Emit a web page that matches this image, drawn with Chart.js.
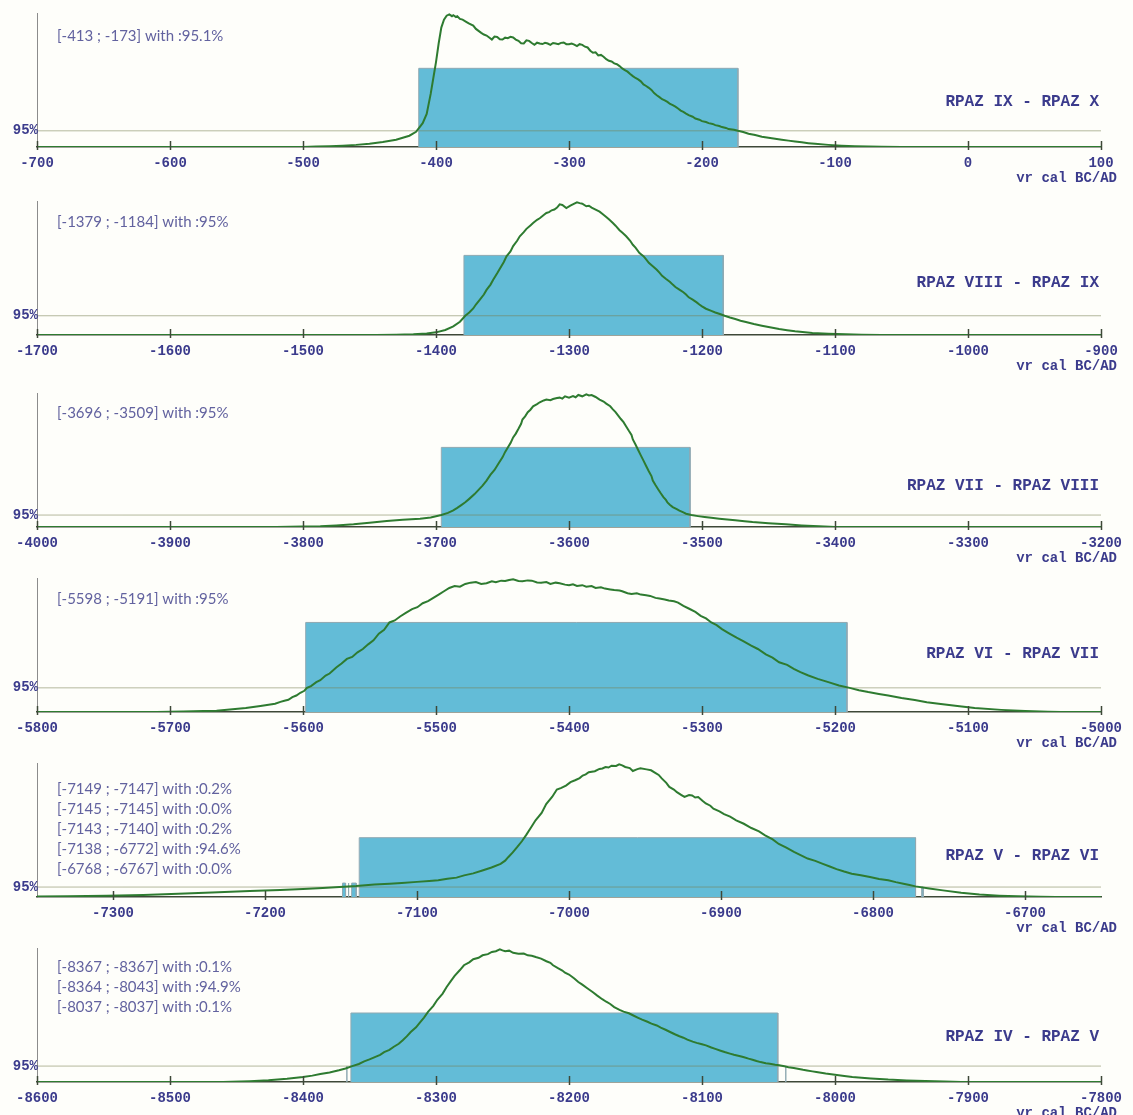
<!DOCTYPE html>
<html>
<head>
<meta charset="utf-8">
<script src="https://cdn.jsdelivr.net/npm/chart.js@4.4.1/dist/chart.umd.min.js"></script>
<style>
  body { margin: 0; background: #fefefa; width: 1133px; height: 1115px; overflow: hidden; position: relative; }
  canvas { position: absolute; left: 0; }
</style>
</head>
<body>
<canvas id="c0" width="1133" height="182" style="top:0px"></canvas>
<canvas id="c1" width="1133" height="182" style="top:188px"></canvas>
<canvas id="c2" width="1133" height="182" style="top:380px"></canvas>
<canvas id="c3" width="1133" height="182" style="top:565px"></canvas>
<canvas id="c4" width="1133" height="182" style="top:750px"></canvas>
<canvas id="c5" width="1133" height="182" style="top:935px"></canvas>
<script>
// panel names and x ranges (yr cal BC/AD)
const titles = ['RPAZ IX - RPAZ X', 'RPAZ VIII - RPAZ IX', 'RPAZ VII - RPAZ VIII',
                'RPAZ VI - RPAZ VII', 'RPAZ V - RPAZ VI', 'RPAZ IV - RPAZ V'];
const xRanges = [[-700, 100], [-1700, -900], [-4000, -3200], [-5800, -5000], [-7350, -6650], [-8600, -7800]];

// density level of the 95% line, in % of the peak
const thresholds = [12.2, 14.5, 9, 18.2, 7.5, 12];

// HPD intervals: [from, to, share, drawn height in % of peak]
const hpd1 = [[-413, -173, '95.1%', 59.3]];
const hpd2 = [[-1379, -1184, '95%', 60]];
const hpd3 = [[-3696, -3509, '95%', 60]];
const hpd4 = [[-5598, -5191, '95%', 67.5]];
const hpd5 = [[-7149, -7147, '0.2%', 10.5], [-7145, -7145, '0.0%', 10.5], [-7143, -7140, '0.2%', 10.5],
              [-7138, -6772, '94.6%', 44.7], [-6768, -6767, '0.0%', 7.5]];
const hpd6 = [[-8367, -8367, '0.1%', 12], [-8364, -8043, '94.9%', 52], [-8037, -8037, '0.1%', 12]];

// posterior densities [year, % of peak]
const curve1 = [[-700,0],[-500,0],[-490,0.3],[-480,0.6],[-470,1.0],[-460,1.6],[-450,2.5],[-440,3.8],[-430,5.5],[-420,8.5],
  [-415,11.5],[-410,18],[-407,25],[-404,40],[-402,52],[-400,64],[-398,78],[-396,90],[-394,96],[-392,99],[-390,100],
  [-388,98.6],[-387,99.4],[-385,98],[-384,98.5],[-382,96.5],[-380,96],[-377,94.2],[-375,93],[-372,91.5],[-370,89],
  [-368,87.5],[-366,86],[-364,84.8],[-362,84],[-360,82.5],[-358,81],[-356,83.2],[-354,83],[-352,81.2],[-350,81],
  [-348,82.4],[-346,82],[-344,83],[-342,82.5],[-340,81],[-338,80],[-336,78.2],[-334,78],[-332,80.4],[-330,80],
  [-328,78.4],[-326,77],[-324,78.6],[-322,78],[-320,77.6],[-318,78.5],[-316,78],[-314,77],[-312,78.4],[-310,78],
  [-308,77.5],[-306,78.5],[-304,78.8],[-302,77.5],[-300,77.4],[-298,78],[-296,77.2],[-294,76],[-292,77.5],[-290,77],
  [-288,75.6],[-286,75],[-284,72.6],[-282,71],[-280,71.4],[-278,69],[-276,69.4],[-274,68],[-272,66.2],[-270,65],
  [-268,64.5],[-266,63],[-264,62.4],[-262,61],[-260,59.2],[-258,58],[-256,56.8],[-254,55],[-252,53.4],[-250,52],
  [-248,51],[-246,49.5],[-244,47.2],[-242,46],[-240,44.6],[-238,43],[-236,40.6],[-234,39],[-232,37.6],[-230,36],
  [-228,35.2],[-226,34],[-224,32.4],[-222,31.5],[-220,30.4],[-218,29],[-216,27.4],[-214,26.5],[-212,25.2],[-210,24],
  [-207,22.8],[-205,21.5],[-202,20.6],[-200,19.5],[-197,18.8],[-195,18],[-192,17.4],[-190,16.5],[-187,15.8],[-185,15],
  [-182,14.4],[-180,13.5],[-176,13],[-173,12.2],[-169,11.3],[-165,10],[-160,9],[-155,7.8],[-150,7],[-145,6.2],
  [-140,5.5],[-135,4.8],[-130,4.2],[-125,3.5],[-120,2.9],[-115,2.4],[-105,1.6],[-95,1.0],[-85,0.6],[-75,0.3],[-65,0.1],
  [-50,0],[100,0]];
const curve2 = [[-1700,0],[-1445,0],[-1430,0.2],[-1417,0.5],[-1407,1.2],[-1400,2],[-1393,3.8],[-1387,6.5],[-1382,10],
  [-1378,14.5],[-1375,17],[-1372,20],[-1370,23],[-1367,26.6],[-1364,30.5],[-1362,34],[-1359,38],[-1357,41.7],
  [-1354,46.5],[-1352,50],[-1349,55],[-1347,59.3],[-1344,63],[-1342,67],[-1339,71],[-1337,74.4],[-1334,77.5],
  [-1332,80],[-1329,82.6],[-1327,84.4],[-1324,86.8],[-1322,88],[-1319,90.5],[-1317,92],[-1315,92.6],[-1313,94],
  [-1311,94.6],[-1309,96],[-1307,98.5],[-1305,98],[-1302,95.7],[-1299,97.5],[-1296,99],[-1294,100],[-1292,99.4],
  [-1290,99],[-1287,97],[-1285,97.4],[-1283,96],[-1280,94.5],[-1277,93],[-1275,91.4],[-1272,89],[-1270,87.2],
  [-1267,84.4],[-1265,82.4],[-1262,79],[-1260,77.2],[-1257,74.4],[-1254,71],[-1252,68],[-1250,65.8],[-1247,61.8],
  [-1244,59.4],[-1242,57],[-1240,54.4],[-1237,51.8],[-1234,49.2],[-1232,47],[-1230,44.6],[-1227,42.2],[-1224,40],
  [-1222,38],[-1220,36.2],[-1217,34.2],[-1214,32.2],[-1212,30.5],[-1210,28.4],[-1207,26.6],[-1204,24.6],[-1202,23],
  [-1200,21.6],[-1197,19.8],[-1193,18.2],[-1190,17],[-1186,15.6],[-1183,14.5],[-1179,13.2],[-1175,12],[-1171,10.8],
  [-1167,9.8],[-1161,8.3],[-1155,7],[-1148,5.6],[-1142,4.5],[-1136,3.6],[-1130,2.8],[-1117,1.5],[-1105,0.9],
  [-1092,0.5],[-1080,0.2],[-1065,0],[-900,0]];
const curve3 = [[-4000,0],[-3820,0],[-3800,0.3],[-3787,0.6],[-3775,1.2],[-3762,2],[-3750,3.2],[-3737,4.5],[-3725,5.4],
  [-3712,6.2],[-3704,7.2],[-3696,9],[-3691,10.6],[-3687,12.5],[-3684,14.4],[-3681,16.5],[-3678,18.6],[-3675,21.2],
  [-3671,24.8],[-3668,28],[-3665,31.2],[-3662,35],[-3659,39.4],[-3656,43],[-3653,47.8],[-3650,52.5],[-3648,56.6],
  [-3646,60],[-3644,63.2],[-3642,67.5],[-3640,70.4],[-3638,74],[-3636,77.8],[-3635,81],[-3633,83.4],[-3631,86.5],
  [-3629,88.4],[-3627,91],[-3624,92.6],[-3622,94],[-3619,95.4],[-3617,96],[-3614,95.6],[-3612,96.5],[-3609,97.2],
  [-3607,97.5],[-3605,96.8],[-3603,98.5],[-3600,97.5],[-3597,98.7],[-3595,97.8],[-3593,99.5],[-3590,98.5],[-3587,100],
  [-3585,99.2],[-3583,99.5],[-3580,98],[-3577,96],[-3574,94.6],[-3572,93],[-3569,91],[-3567,88.7],[-3565,86.6],
  [-3563,84],[-3561,81.4],[-3559,79],[-3557,75.8],[-3555,72.5],[-3553,69.4],[-3552,66],[-3550,62.2],[-3548,58],
  [-3546,54],[-3544,50],[-3542,46],[-3540,42],[-3538,38.4],[-3537,35],[-3535,31.6],[-3533,28.5],[-3531,25.4],
  [-3529,22.5],[-3527,20.2],[-3526,18.5],[-3524,16.6],[-3522,15],[-3519,13.5],[-3517,12.3],[-3514,11],[-3512,10],
  [-3508,9],[-3503,8.2],[-3498,7.5],[-3493,6.9],[-3487,6.2],[-3481,5.6],[-3475,5],[-3468,4.3],[-3462,3.7],[-3450,2.8],
  [-3437,2],[-3425,1.2],[-3412,0.5],[-3400,0],[-3200,0]];
const curve4 = [[-5800,0],[-5710,0],[-5690,0.3],[-5675,0.7],[-5665,1],[-5655,1.8],[-5643,3],[-5632,4.5],[-5621,6.2],
  [-5617,7.6],[-5614,8.5],[-5611,9.2],[-5608,11.2],[-5605,12.4],[-5602,14.5],[-5599,16],[-5597,18.2],[-5594,19.5],
  [-5590,22.5],[-5587,24],[-5583,27.5],[-5580,29],[-5575,33.5],[-5571,36.5],[-5567,40],[-5563,41.5],[-5559,45],
  [-5555,47.5],[-5551,51],[-5547,54],[-5543,59],[-5539,62],[-5535,67.5],[-5531,69],[-5527,72],[-5523,74.5],
  [-5518,77.5],[-5514,79],[-5510,82],[-5506,83.5],[-5502,86],[-5498,88.5],[-5494,91],[-5490,93.5],[-5486,95],
  [-5482,94.5],[-5478,96.5],[-5474,97.5],[-5470,98],[-5466,96.5],[-5462,97],[-5458,98.5],[-5455,97.8],[-5451,99],
  [-5448,98.7],[-5445,99.5],[-5442,100],[-5438,98.8],[-5435,98.5],[-5431,99.2],[-5428,99],[-5424,97.6],[-5421,97.5],
  [-5417,97.9],[-5414,96.5],[-5410,97.5],[-5407,97],[-5403,96],[-5400,95.5],[-5397,96.3],[-5394,95],[-5390,95.6],
  [-5387,94.5],[-5383,94.9],[-5380,93.5],[-5376,94],[-5373,93],[-5369,92.4],[-5366,92],[-5362,91.6],[-5360,91],
  [-5356,89.5],[-5353,89],[-5349,89.5],[-5346,88.5],[-5342,88],[-5339,87.5],[-5335,86],[-5332,85.5],[-5328,84.8],
  [-5325,84],[-5321,83.5],[-5318,82.5],[-5314,80],[-5310,78],[-5305,75.5],[-5301,72.5],[-5297,70.5],[-5293,67.5],
  [-5289,65.5],[-5285,62.5],[-5280,59.5],[-5274,56],[-5269,53.5],[-5263,50],[-5258,47.5],[-5252,43.5],[-5247,41],
  [-5242,37.5],[-5236,35.5],[-5231,32.5],[-5226,30],[-5220,27.5],[-5213,25],[-5205,22.5],[-5197,20],[-5189,18.2],
  [-5182,16.4],[-5175,15],[-5167,13.6],[-5160,12.5],[-5150,10.6],[-5140,9],[-5131,7.4],[-5122,6.2],[-5108,4.5],
  [-5095,3],[-5075,1.6],[-5057,0.7],[-5040,0.2],[-5030,0],[-5000,0]];
const curve5 = [[-7350,0.3],[-7330,0.5],[-7304,1],[-7280,1.6],[-7257,2.5],[-7235,3.4],[-7210,4.5],[-7190,5.3],[-7175,6],
  [-7162,6.8],[-7151,7.5],[-7140,8.3],[-7128,9.5],[-7118,10],[-7110,10.6],[-7100,11.4],[-7092,12],[-7086,12.6],
  [-7080,13.8],[-7074,14.6],[-7069,16.3],[-7063,17.8],[-7057,20],[-7051,22.2],[-7045,25],[-7042,27.4],[-7040,30],
  [-7037,33.6],[-7034,37.7],[-7031,42],[-7028,47],[-7025,52.4],[-7022,57.8],[-7018,63.4],[-7015,70],[-7011,75.6],
  [-7008,81],[-7005,82.2],[-7002,84],[-6999,86.6],[-6996,88],[-6993,89.6],[-6991,91.5],[-6989,92.4],[-6987,94],
  [-6983,94.8],[-6980,96.5],[-6978,96.9],[-6976,98],[-6974,97.6],[-6972,99],[-6969,98.8],[-6967,100],[-6965,99.2],
  [-6963,98],[-6960,97.2],[-6958,95],[-6955,96.4],[-6953,97],[-6949,96.2],[-6946,95.5],[-6943,93.4],[-6941,92],
  [-6939,89.4],[-6936,86],[-6934,83],[-6931,81],[-6929,79],[-6926,76.8],[-6924,75.4],[-6921,76.8],[-6919,76.5],
  [-6917,75],[-6915,75.4],[-6912,72.4],[-6910,70.5],[-6907,68.8],[-6905,66.6],[-6901,64.6],[-6898,62.5],[-6894,60.6],
  [-6890,57.8],[-6885,55.2],[-6880,52],[-6875,49.4],[-6871,46.5],[-6866,43.4],[-6862,40],[-6857,37.2],[-6852,34],
  [-6848,31.8],[-6843,29],[-6838,27.2],[-6833,25],[-6828,22.8],[-6824,21],[-6819,19.2],[-6814,17.6],[-6808,16.4],
  [-6802,15],[-6796,13.6],[-6790,12.6],[-6785,11.2],[-6780,10],[-6776,9],[-6772,8],[-6763,6.4],[-6754,5],[-6742,3.2],
  [-6730,1.8],[-6717,1],[-6705,0.5],[-6690,0.1],[-6680,0],[-6650,0]];
const curve6 = [[-8600,0],[-8460,0],[-8440,0.6],[-8426,1.3],[-8412,2.4],[-8400,3.8],[-8393,4.8],[-8387,6],[-8380,7.2],
  [-8373,8.8],[-8368,10.2],[-8363,12],[-8358,13.6],[-8354,15.5],[-8350,17],[-8346,18.8],[-8342,20.4],[-8339,22.5],
  [-8335,24.2],[-8332,26.4],[-8328,28.8],[-8325,31.5],[-8322,34.4],[-8319,37.7],[-8315,41.2],[-8312,45],[-8309,48.6],
  [-8306,52.8],[-8302,57.4],[-8299,62],[-8295,66.6],[-8292,71.6],[-8289,75.8],[-8286,80],[-8282,84.4],[-8279,88],
  [-8275,90.2],[-8272,92.5],[-8268,93.6],[-8265,95.5],[-8261,96.4],[-8258,98],[-8255,98.6],[-8252,100],[-8250,99.2],
  [-8248,98.5],[-8245,99],[-8242,97.4],[-8238,96.7],[-8234,96.8],[-8231,95.5],[-8228,95.2],[-8225,94.2],[-8221,93],
  [-8217,91],[-8214,89.8],[-8212,88],[-8208,85.6],[-8205,84],[-8203,82.4],[-8200,81],[-8196,78],[-8193,75.4],
  [-8190,73.4],[-8186,70.5],[-8182,67.6],[-8179,65.3],[-8175,62.4],[-8172,60.5],[-8169,58.8],[-8166,56.5],[-8162,54.4],
  [-8159,53],[-8155,51.8],[-8152,50.3],[-8148,48.4],[-8145,47],[-8141,45.4],[-8138,44],[-8134,42.6],[-8131,41],
  [-8127,39.2],[-8124,37.7],[-8120,35.8],[-8117,34.5],[-8114,33.4],[-8111,31.9],[-8107,30.4],[-8104,29.5],[-8100,28.4],
  [-8097,27.6],[-8093,26],[-8090,25],[-8086,23.6],[-8083,22.6],[-8079,21.4],[-8076,20.5],[-8072,19.6],[-8069,18.8],
  [-8065,17.6],[-8062,16.8],[-8059,15.8],[-8056,15],[-8052,14.2],[-8049,13.7],[-8045,13],[-8042,12.6],[-8038,11.8],
  [-8035,11.2],[-8031,10.6],[-8028,10],[-8024,9.2],[-8021,8.7],[-8017,8],[-8014,7.5],[-8007,6.4],[-8000,5.5],
  [-7993,4.6],[-7987,3.8],[-7980,3.2],[-7973,2.7],[-7960,1.8],[-7946,1.2],[-7932,0.8],[-7918,0.3],[-7905,0],[-7800,0]];

const curves = [curve1, curve2, curve3, curve4, curve5, curve6];
const hpds = [hpd1, hpd2, hpd3, hpd4, hpd5, hpd6];

// text placement inside each panel (canvas px)
const titleY = [102, 95, 106, 89, 106, 102];
const textY = [36, 34, 33, 34, 39, 32];

const TICK_COLOR = '#3b3b8c';
const MONO = '"Liberation Mono", "Courier New", monospace';

const decor = {
  id: 'decor',
  afterDraw(chart, args, o) {
    const { ctx, chartArea: a, scales: { x, y } } = chart;
    ctx.save();
    ctx.strokeStyle = '#3e4838';
    ctx.lineWidth = 1.5;
    x.ticks.forEach(t => {
      const px = Math.round(x.getPixelForValue(t.value)) + 0.5;
      ctx.beginPath(); ctx.moveTo(px, a.bottom - 6); ctx.lineTo(px, a.bottom + 3); ctx.stroke();
    });
    ctx.fillStyle = TICK_COLOR;
    ctx.textBaseline = 'middle';
    ctx.textAlign = 'right';
    ctx.font = 'bold 14px ' + MONO;
    ctx.fillText('95%', a.left + 1, y.getPixelForValue(o.threshold));
    ctx.fillText('yr cal BC/AD', 1117, a.bottom + 31);
    ctx.font = 'bold 16px ' + MONO;
    ctx.fillText(o.title, 1099, o.titleY);
    ctx.textAlign = 'left';
    ctx.fillStyle = '#62629f';
    ctx.font = '15px Lato, "Open Sans", sans-serif';
    o.lines.forEach((s, i) => ctx.fillText(s, 57, o.textY + i * 20));
    ctx.restore();
  }
};

curves.forEach((curve, i) => {
  const [xmin, xmax] = xRanges[i];
  const boxes = hpds[i].map(([lo, hi, , h]) => ({
    data: [{ x: lo, y: 0 }, { x: lo, y: h }, { x: hi, y: h }, { x: hi, y: 0 }],
    borderColor: '#8fa9b2', borderWidth: 1, backgroundColor: '#63bcd7',
    fill: 'origin', pointRadius: 0, tension: 0
  }));
  new Chart(document.getElementById('c' + i), {
    type: 'line',
    data: {
      datasets: [
        { data: curve.map(([x, y]) => ({ x, y })), borderColor: '#2e7b30', borderWidth: 2,
          pointRadius: 0, tension: 0, fill: false },
        { data: [{ x: xmin, y: thresholds[i] }, { x: xmax, y: thresholds[i] }],
          borderColor: 'rgba(120,128,80,0.55)', borderWidth: 1, pointRadius: 0, fill: false },
        ...boxes
      ]
    },
    options: {
      responsive: false,
      animation: false,
      events: [],
      layout: { padding: { left: 37, right: 32, top: 13, bottom: 0 } },
      plugins: {
        legend: { display: false },
        tooltip: { enabled: false },
        decor: {
          threshold: thresholds[i],
          title: titles[i],
          titleY: titleY[i],
          textY: textY[i],
          lines: hpds[i].map(([lo, hi, p]) => `[${lo} ; ${hi}] with :${p}`)
        }
      },
      scales: {
        x: {
          type: 'linear', min: xmin, max: xmax,
          afterBuildTicks: s => {
            const t = [];
            for (let v = Math.ceil(s.min / 100) * 100; v <= s.max; v += 100) t.push({ value: v });
            s.ticks = t;
          },
          afterFit: s => { s.height = 35; },
          ticks: { stepSize: 100, autoSkip: false, maxRotation: 0, padding: 8, color: TICK_COLOR,
                   font: { family: MONO, size: 14, weight: 'bold' },
                   callback: v => String(v) },
          grid: { display: false, drawTicks: false },
          border: { display: true, color: '#3e4838', width: 1.5 }
        },
        y: {
          min: 0, max: 101,
          ticks: { display: false },
          grid: { display: false, drawTicks: false },
          border: { display: true, color: '#8c8c8c', width: 1 }
        }
      }
    },
    plugins: [decor]
  });
});
</script>
</body>
</html>
